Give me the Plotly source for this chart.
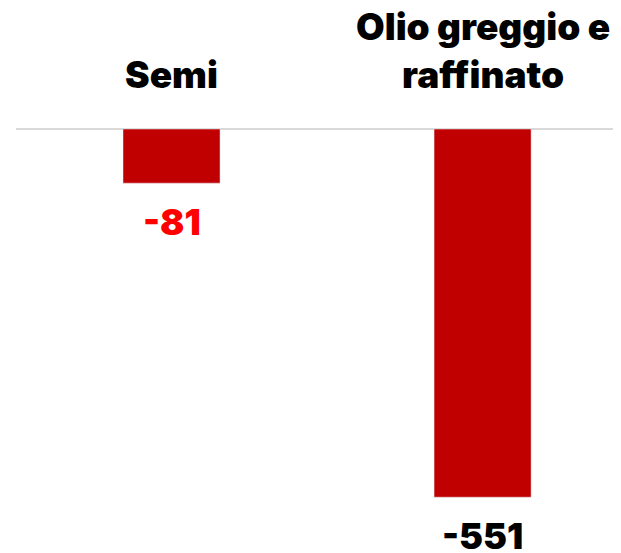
import plotly.graph_objects as go

categories = ["Semi", "Olio greggio e<br>raffinato"]
values = [-81, -551]
label_colors = ["#ff0000", "#000000"]

bar_color = "#c00000"
font_family = "Inter"

fig = go.Figure()
fig.add_trace(go.Bar(
    x=list(range(len(categories))),
    y=values,
    width=0.312,
    marker_color=bar_color,
    hoverinfo="skip",
))

# value labels under the bars
for i, v in enumerate(values):
    fig.add_annotation(
        x=i, y=v, xref="x", yref="y",
        text=f"{v}",
        showarrow=False,
        yanchor="middle",
        yshift=-39,
        font=dict(family=font_family, size=36, color=label_colors[i], weight=900),
    )

# category names above the zero line
for i, c in enumerate(categories):
    fig.add_annotation(
        x=i, y=0, xref="x", yref="y",
        text=c,
        showarrow=False,
        yanchor="bottom",
        yshift=30,
        font=dict(family=font_family, size=37, color="#000000", weight=900),
    )

# page body adds an 8px margin, so the figure is 8px smaller than the window
fig.update_layout(
    width=613,
    height=545,
    margin=dict(l=8, r=0, t=112, b=0),
    plot_bgcolor="white",
    paper_bgcolor="white",
    showlegend=False,
    xaxis=dict(range=[-0.5, 1.445], showticklabels=False, showgrid=False,
               zeroline=False, showline=False),
    yaxis=dict(range=[-634.5, 13.5], showticklabels=False, showgrid=False,
               zeroline=True, zerolinecolor="#d9d9d9", zerolinewidth=2),
)

fig.write_html("out.html")
